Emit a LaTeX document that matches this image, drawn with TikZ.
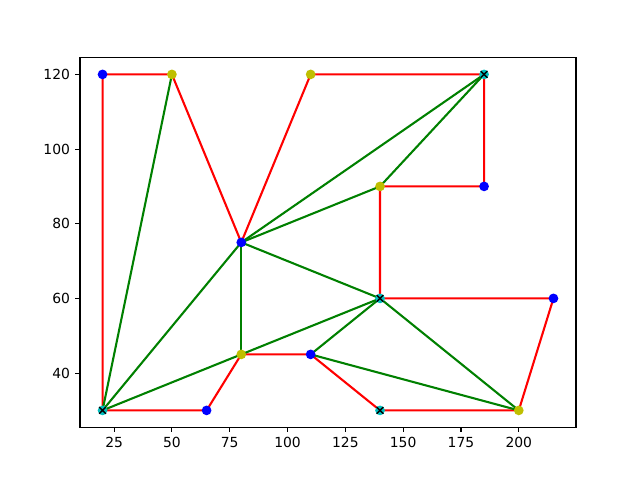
\documentclass[tikz,border=0pt]{standalone}
\usepackage{fontspec}
\setmainfont{DejaVu Sans}
\definecolor{mplr}{HTML}{FF0000}
\definecolor{mplg}{HTML}{008000}
\definecolor{mplb}{HTML}{0000FF}
\definecolor{mply}{HTML}{BFBF00}
\definecolor{mplc}{HTML}{00BFBF}
\tikzset{
  redline/.style={draw=mplr,line width=1.5pt,line cap=round,line join=round},
  greenline/.style={draw=mplg,line width=1.5pt,line cap=round},
  bdot/.style={circle,fill=mplb,inner sep=0pt,minimum size=7pt},
  ydot/.style={circle,fill=mply,inner sep=0pt,minimum size=7pt},
  cdot/.style={circle,fill=mplc,inner sep=0pt,minimum size=7pt,
    path picture={\draw[black,line width=1pt] (path picture bounding box.south west)++(0.5pt,0.5pt) -- ++(6pt,6pt) (path picture bounding box.north west)++(0.5pt,-0.5pt) -- ++(6pt,-6pt);}},
  spine/.style={draw=black,line width=0.8pt},
  tick/.style={draw=black,line width=0.8pt},
  ticklbl/.style={font=\fontsize{10pt}{12pt}\selectfont,inner sep=0pt}
}
\begin{document}
\begin{tikzpicture}
\useasboundingbox (0,0) rectangle (460.8pt,345.6pt);
\begin{scope}[x=1.66489pt,y=2.688pt,shift={(40.535pt,-30.528pt)}]
  % axes corners
  \coordinate (ll) at (10.25,25.5);
  \coordinate (ur) at (224.75,124.5);
  % points
  \coordinate (p1) at (20,120);
  \coordinate (p2) at (50,120);
  \coordinate (p3) at (80,75);
  \coordinate (p4) at (110,120);
  \coordinate (p5) at (185,120);
  \coordinate (p6) at (185,90);
  \coordinate (p7) at (140,90);
  \coordinate (p8) at (140,60);
  \coordinate (p9) at (215,60);
  \coordinate (p10) at (200,30);
  \coordinate (p11) at (140,30);
  \coordinate (p12) at (110,45);
  \coordinate (p13) at (80,45);
  \coordinate (p14) at (65,30);
  \coordinate (p15) at (20,30);
  % red polygon
  \draw[redline] (p1) -- (p2) -- (p3) -- (p4) -- (p5) -- (p6) -- (p7) -- (p8) -- (p9) -- (p10) -- (p11) -- (p12) -- (p13) -- (p14) -- (p15) -- cycle;
  % green diagonals
  \draw[greenline] (p15) -- (p2);
  \draw[greenline] (p15) -- (p3);
  \draw[greenline] (p15) -- (p13);
  \draw[greenline] (p13) -- (p8);
  \draw[greenline] (p3) -- (p13);
  \draw[greenline] (p3) -- (p8);
  \draw[greenline] (p3) -- (p7);
  \draw[greenline] (p3) -- (p5);
  \draw[greenline] (p7) -- (p5);
  \draw[greenline] (p12) -- (p8);
  \draw[greenline] (p12) -- (p10);
  \draw[greenline] (p8) -- (p10);
  % markers
  \node[bdot] (m1) at (p1) {};
  \node[bdot] (m14) at (p14) {};
  \node[bdot] (m3) at (p3) {};
  \node[bdot] (m12) at (p12) {};
  \node[bdot] (m6) at (p6) {};
  \node[bdot] (m9) at (p9) {};
  \node[ydot] (m2) at (p2) {};
  \node[ydot] (m4) at (p4) {};
  \node[ydot] (m7) at (p7) {};
  \node[ydot] (m13) at (p13) {};
  \node[ydot] (m10) at (p10) {};
  \node[cdot] (m5) at (p5) {};
  \node[cdot] (m15) at (p15) {};
  \node[cdot] (m8) at (p8) {};
  \node[cdot] (m11) at (p11) {};
  % spines
  \draw[spine] (ll) rectangle (ur);
  % x ticks
  \foreach \v in {25,50,75,100,125,150,175,200} {
    \draw[tick] (\v,25.5) -- ++(0,-3.5pt);
    \node[ticklbl,anchor=north] (xt\v) at ([yshift=-7pt]\v,25.5) {\v};
  }
  % y ticks
  \foreach \v in {40,60,80,100,120} {
    \draw[tick] (10.25,\v) -- ++(-3.5pt,0);
    \node[ticklbl,anchor=east] (yt\v) at ([xshift=-7pt]10.25,\v) {\v};
  }
\end{scope}
\end{tikzpicture}
\end{document}
